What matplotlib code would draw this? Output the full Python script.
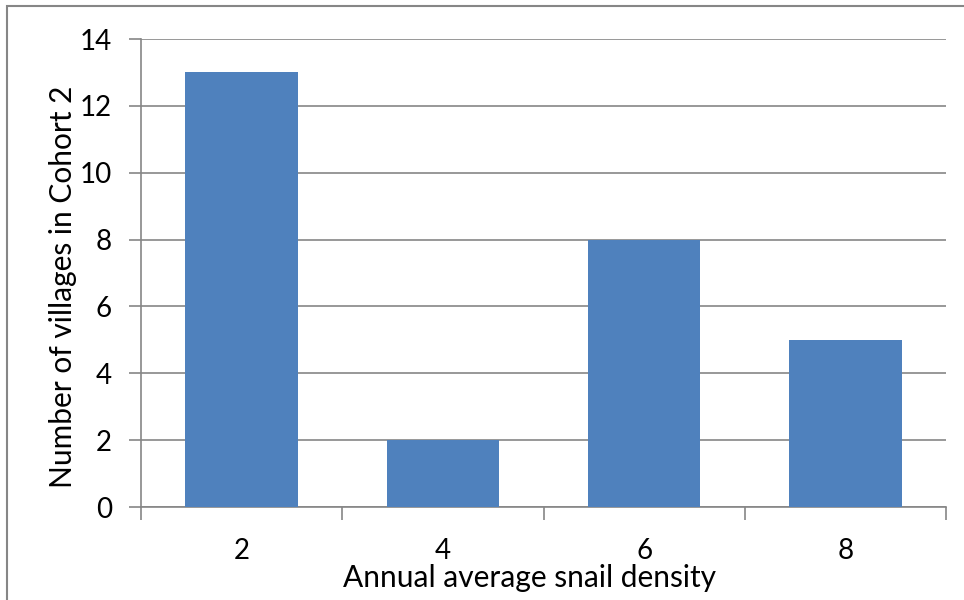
import matplotlib
matplotlib.use("Agg")
import matplotlib.pyplot as plt
from matplotlib.patches import Rectangle

categories = ["2", "4", "6", "8"]
values = [13, 2, 8, 5]
yticks = [0, 2, 4, 6, 8, 10, 12, 14]
xlabel = "Annual average snail density"
ylabel = "Number of villages in Cohort 2"

plt.rcParams['font.family'] = ['Lato', 'DejaVu Sans']

W, H = 964, 600
fig = plt.figure(figsize=(W / 100, H / 100), dpi=100)
ax = fig.add_axes([141 / W, 1 - 507 / H, (946 - 141) / W, (507 - 39) / H])

grid_c = "#868686"
x = list(range(len(categories)))
ax.bar(x, values, width=0.56, color="#4F81BD", zorder=3)
ax.set_xlim(-0.5, len(categories) - 0.5)
ax.set_ylim(0, 14)
ax.set_yticks(yticks)
ax.set_yticklabels([str(v) for v in yticks])
ax.yaxis.grid(True, color=grid_c, linewidth=1.2, zorder=0)
ax.set_axisbelow(True)

ax.set_xticks([i - 0.5 for i in range(len(categories) + 1)])
ax.set_xticklabels([])
ax.set_xticks(x, minor=True)
ax.set_xticklabels(categories, minor=True)
ax.tick_params(axis='x', which='minor', length=0, pad=22, labelsize=20)
ax.tick_params(axis='x', which='major', length=9, width=1.2, color=grid_c, direction='out')
ax.tick_params(axis='y', length=9, width=1.2, color=grid_c, direction='out', labelsize=20, pad=12)

for s in ['top', 'right']:
    ax.spines[s].set_visible(False)
for s in ['left', 'bottom']:
    ax.spines[s].set_color(grid_c)
    ax.spines[s].set_linewidth(1.2)

ax.set_xlabel(xlabel, fontsize=21.5, labelpad=0)
ax.set_ylabel(ylabel, fontsize=21.5, labelpad=2)
ax.xaxis.label.set_x(0.482)
ax.yaxis.label.set_y(0.471)

fig.patches.append(Rectangle((7 / W, -0.1), 1.2, 1 - 6 / H + 0.1, transform=fig.transFigure,
                             fill=False, edgecolor="#868686", linewidth=1.5))

fig.savefig("out.png", dpi=100)
